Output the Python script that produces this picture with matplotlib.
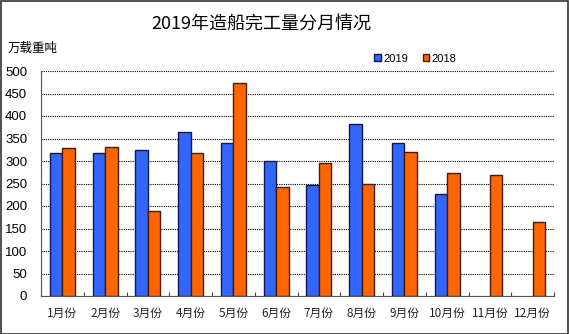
import matplotlib
matplotlib.use("Agg")
import matplotlib.pyplot as plt
from matplotlib.patches import Rectangle
import numpy as np

months = ["1月份", "2月份", "3月份", "4月份", "5月份", "6月份",
          "7月份", "8月份", "9月份", "10月份", "11月份", "12月份"]
values_2019 = [318, 318, 325, 364, 341, 300, 246, 383, 341, 227, np.nan, np.nan]
values_2018 = [330, 331, 190, 317, 473, 243, 296, 250, 321, 273, 270, 165]
y_ticks = [0, 50, 100, 150, 200, 250, 300, 350, 400, 450, 500]

CJK = ["Noto Sans CJK SC", "DejaVu Sans"]
NUM = ["Liberation Sans", "DejaVu Sans"]

W, H = 569, 334
fig = plt.figure(figsize=(W / 100, H / 100), dpi=100)
fig.patch.set_facecolor("white")

# plot area in pixel coordinates
left, right, top, bottom = 41, 554, 71, 296
ax = fig.add_axes([left / W, 1 - bottom / H, (right - left) / W, (bottom - top) / H])

x = np.arange(len(months))
bw = 0.29
ax.bar(x - bw / 2, values_2019, width=bw, color="#3366FF", edgecolor="#101850",
       linewidth=1.0, label="2019", zorder=3)
ax.bar(x + bw / 2, values_2018, width=bw, color="#FF6600", edgecolor="#4a1a00",
       linewidth=1.0, label="2018", zorder=3)

ax.set_xlim(-0.5, len(months) - 0.5)
ax.set_ylim(0, 500)
ax.set_yticks(y_ticks)
ax.set_yticklabels([str(v) for v in y_ticks], fontfamily=NUM, fontsize=9.5)
ax.yaxis.grid(True, color="black", linestyle=(0, (1, 1)), linewidth=0.8)
ax.set_axisbelow(True)
ax.tick_params(axis="y", length=0, pad=10)

ax.set_xticks(x)
ax.set_xticklabels(months, fontfamily=CJK, fontsize=8.5, color="#222222")
ax.tick_params(axis="x", length=0, pad=8)
ax.set_xticks(np.arange(-0.5, len(months)), minor=True)
ax.tick_params(axis="x", which="minor", direction="in", length=3, width=0.8, color="#444444")

for s in ("top", "right"):
    ax.spines[s].set_visible(False)
ax.spines["left"].set_color("#555555")
ax.spines["bottom"].set_color("#555555")

fig.text(261 / W, 1 - 24 / H, "2019年造船完工量分月情况", ha="center", va="center",
         fontfamily=CJK, fontsize=13)
fig.text(8 / W, 1 - 48 / H, "万载重吨", ha="left", va="center",
         fontfamily=CJK, fontsize=9)

leg = ax.legend(loc="lower left", bbox_to_anchor=(370 / W, 1 - 68 / H),
                bbox_transform=fig.transFigure, ncol=2, frameon=False,
                prop={"family": NUM, "size": 8}, handlelength=0.6, handleheight=0.6,
                handletextpad=0.2, columnspacing=1.3, borderaxespad=0)

# outer frame
fig.patches.append(Rectangle((0.5 / W, 0.5 / H), 1 - 1.5 / W, 1 - 1.5 / H,
                             transform=fig.transFigure, fill=False,
                             edgecolor="#333333", linewidth=1.2))

fig.savefig("out.png", dpi=100, facecolor="white")
